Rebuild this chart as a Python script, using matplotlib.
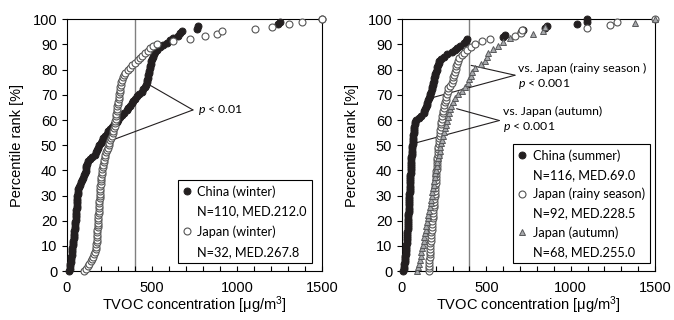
import matplotlib
matplotlib.use("Agg")
import matplotlib.pyplot as plt
from matplotlib.lines import Line2D
import numpy as np

plt.rcParams['font.family'] = ['Liberation Sans', 'DejaVu Sans']
plt.rcParams['mathtext.fontset'] = 'custom'
plt.rcParams['mathtext.rm'] = 'Liberation Sans'
plt.rcParams['mathtext.it'] = 'Lato:italic'

# sorted TVOC concentrations [ug/m3]
china_winter = [
    14, 16, 18, 20, 22, 24, 26, 27, 29, 31,
    32, 34, 35, 37, 39, 40, 42, 43, 45, 46,
    48, 49, 51, 52, 53, 54, 55, 56, 57, 58,
    59, 60, 61, 62, 64, 66, 68, 74, 80, 86,
    93, 100, 106, 109, 112, 114, 116, 125, 135, 150,
    165, 172, 178, 184, 191, 198, 204, 213, 223, 233,
    243, 253, 263, 278, 292, 302, 312, 322, 336, 351,
    361, 370, 380, 390, 400, 410, 424, 439, 449, 459,
    464, 468, 471, 474, 477, 480, 483, 486, 489, 492,
    495, 498, 505, 512, 518, 532, 547, 566, 586, 605,
    625, 653, 665, 674, 762, 770, 1243, 1255, 1500]

japan_winter = [
    100, 112, 122, 132, 140, 148, 155, 160, 164, 168,
    171, 173, 174, 175, 176, 177, 178, 179, 180, 181,
    182, 183, 184, 185, 186, 187, 188, 189, 190, 191,
    192, 193, 194, 195, 196, 197, 198, 199, 200, 202,
    204, 206, 208, 210, 213, 216, 219, 222, 226, 230,
    235, 240, 245, 250, 255, 260, 265, 269, 273, 277,
    280, 282, 284, 286, 288, 291, 293, 295, 297, 299,
    301, 303, 305, 307, 309, 311, 313, 316, 319, 322,
    328, 334, 341, 356, 371, 385, 400, 415, 429, 444,
    459, 474, 488, 508, 528, 624, 723, 812, 882, 912,
    1105, 1206, 1304, 1382, 1500]

china_summer = [
    8, 10, 12, 14, 15, 17, 18, 20, 21, 23,
    24, 25, 26, 27, 28, 29, 30, 31, 32, 33,
    34, 35, 36, 37, 38, 38, 38, 39, 40, 40,
    41, 42, 42, 43, 44, 44, 45, 45, 46, 46,
    47, 48, 48, 49, 50, 51, 52, 53, 53, 54,
    55, 56, 56, 57, 58, 60, 61, 62, 63, 64,
    65, 66, 67, 69, 71, 72, 74, 76, 77, 84,
    100, 115, 129, 133, 137, 142, 146, 150, 155, 159,
    164, 168, 172, 176, 179, 182, 185, 189, 192, 195,
    198, 201, 205, 209, 213, 217, 222, 230, 248, 267,
    294, 312, 328, 345, 365, 380, 388, 601, 610, 706,
    715, 850, 858, 1040, 1095, 1099]

japan_rainy = [
    160, 161, 162, 162, 163, 164, 164, 165, 166, 168,
    169, 170, 172, 173, 174, 176, 177, 178, 180, 181,
    183, 184, 185, 187, 188, 190, 191, 193, 194, 195,
    197, 198, 199, 200, 201, 203, 204, 205, 206, 208,
    209, 210, 212, 213, 215, 216, 218, 220, 221, 223,
    225, 227, 230, 232, 234, 237, 240, 243, 246, 249,
    252, 255, 259, 263, 266, 270, 274, 282, 294, 300,
    305, 310, 314, 319, 323, 328, 332, 341, 355, 370,
    386, 408, 435, 472, 520, 670, 704, 710, 1099, 1233,
    1273, 1500]

japan_autumn = [
    87, 93, 99, 105, 111, 115, 120, 124, 128, 133,
    137, 141, 145, 149, 153, 157, 161, 165, 170, 173,
    177, 180, 183, 187, 190, 194, 198, 202, 206, 209,
    214, 218, 223, 228, 234, 240, 245, 250, 256, 263,
    268, 273, 278, 285, 292, 302, 315, 333, 353, 375,
    390, 400, 408, 418, 430, 470, 495, 506, 512, 540,
    572, 600, 640, 779, 838, 845, 1381, 1500]

left_names = ['China (winter)', 'Japan (winter)']
left_stats = ['N=110, MED.212.0', 'N=32, MED.267.8']
right_names = ['China (summer)', 'Japan (rainy season)', 'Japan (autumn)']
right_stats = ['N=116, MED.69.0', 'N=92, MED.228.5', 'N=68, MED.255.0']

filled = dict(marker='o', ms=5, mfc='#231f20', mec='#231f20', mew=0.7)
hollow = dict(marker='o', ms=5, mfc='white', mec='#555555', mew=0.8)
triangle = dict(marker='^', ms=5, mfc='#a7a9ac', mec='#58595b', mew=0.7)


def percentile_rank(values):
    n = len(values)
    return np.arange(n) / (n - 1) * 100


def style_axes(ax):
    ax.set_xlim(0, 1500)
    ax.set_ylim(0, 100)
    ax.set_xticks(np.arange(0, 1501, 500))
    ax.set_xticks(np.arange(0, 1501, 100), minor=True)
    ax.set_yticks(np.arange(0, 101, 10))
    ax.tick_params(axis='x', which='both', direction='in', length=3.5, width=0.8,
                   labelsize=10.5, pad=7)
    ax.tick_params(axis='y', direction='out', length=3.5, width=0.8, labelsize=10.5)
    ax.axvline(400, color='#808080', lw=1, zorder=1)
    ax.set_xlabel('TVOC concentration [μg/m$^\\mathrm{3}$]', fontsize=10.5, labelpad=0)
    ax.set_ylabel('Percentile rank [%]', fontsize=10.5, labelpad=6)
    for s in ax.spines.values():
        s.set_linewidth(0.8)


def add_legend(ax, handles, names, stats, anchor, spacing):
    blank = Line2D([], [], linestyle='none')
    hs, ls = [], []
    for h, name, st in zip(handles, names, stats):
        hs += [h, blank]
        ls += [name, st]
    leg = ax.legend(hs, ls, loc='lower right', bbox_to_anchor=anchor, frameon=True,
                    fancybox=False, edgecolor='black', framealpha=1, numpoints=1,
                    prop={'family': 'Lato', 'size': 9.2}, handlelength=0.6,
                    handletextpad=0.55, borderpad=0.4, labelspacing=spacing,
                    borderaxespad=0)
    leg.get_frame().set_linewidth(0.8)


def bracket(ax, apex, ends, lines, text_xy):
    for e in ends:
        ax.annotate('', xy=e, xytext=apex,
                    arrowprops=dict(arrowstyle='-', lw=0.8, color='#231f20',
                                    shrinkA=0, shrinkB=0))
    ax.text(text_xy[0], text_xy[1], lines, family='Lato', fontsize=8.8,
            va='center', ha='left', linespacing=1.3)


fig = plt.figure(figsize=(6.74, 3.2), dpi=100)
ax1 = fig.add_axes([0.0994, 0.153, 0.3783, 0.7866])
ax2 = fig.add_axes([0.5964, 0.153, 0.3754, 0.7866])

# left: winter
h1, = ax1.plot(china_winter, percentile_rank(china_winter), ls='none', clip_on=False,
               zorder=3, **filled)
h2, = ax1.plot(japan_winter, percentile_rank(japan_winter), ls='none', clip_on=False,
               zorder=4, **hollow)
style_axes(ax1)
add_legend(ax1, [h1, h2], left_names, left_stats, (0.961, 0.032), 0.62)
bracket(ax1, (741, 64), [(471, 74.5), (285, 52.5)], '$\\mathit{p}$ < 0.01', (770, 64))

# right: summer / rainy / autumn
g1, = ax2.plot(china_summer, percentile_rank(china_summer), ls='none', clip_on=False,
               zorder=3, **filled)
g2, = ax2.plot(japan_rainy, percentile_rank(japan_rainy), ls='none', clip_on=False,
               zorder=4, **hollow)
g3, = ax2.plot(japan_autumn, percentile_rank(japan_autumn), ls='none', clip_on=False,
               zorder=5, **triangle)
style_axes(ax2)
add_legend(ax2, [g1, g2, g3], right_names, right_stats, (0.98, 0.032), 0.55)
bracket(ax2, (670, 77.8), [(410, 81.7), (186, 69)],
        'vs. Japan (rainy season )\n$\\mathit{p}$ < 0.001', (690, 77))
bracket(ax2, (577, 59.8), [(324, 64.5), (87, 51)],
        'vs. Japan (autumn)\n$\\mathit{p}$ < 0.001', (597, 60))

fig.savefig('out.png', dpi=100)
